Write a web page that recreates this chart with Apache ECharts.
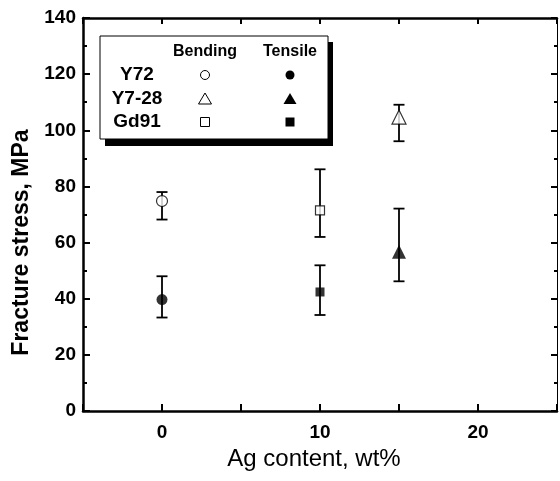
<!DOCTYPE html>
<html><head><meta charset="utf-8">
<script src="https://cdn.jsdelivr.net/npm/echarts@6/dist/echarts.min.js"></script>
<style>html,body{margin:0;padding:0;background:#fff}#c{width:560px;height:481px}</style>
</head><body><div id="c"></div>
<script>
// Sample order: Y72, Y7-28, Gd91
const samples = ['Y72', 'Y7-28', 'Gd91'];
const agContent = [0, 15, 10];
const bendMean = [74.8, 104.7, 71.5];
const bendLow = [68.2, 96.1, 62.0];
const bendHigh = [78.0, 109.1, 86.1];
const tensMean = [39.7, 56.7, 42.4];
const tensLow = [33.3, 46.2, 34.2];
const tensHigh = [48.0, 72.1, 51.9];
const xTicks = [0, 10, 20];
const yTicks = [0, 20, 40, 60, 80, 100, 120, 140];

const symbols = ['circle', 'triangle', 'rect'];
const symSizes = [11, 14, 9];
const FONT = "'Liberation Sans Narrow','Liberation Sans',Arial,sans-serif";

function errData(low, high) {
  return agContent.map((x, i) => [x, low[i], high[i]]);
}
function errSeries(low, high) {
  return {
    type: 'custom', z: 1,
    data: errData(low, high),
    renderItem: function (params, api) {
      const lo = api.coord([api.value(0), api.value(1)]);
      const hi = api.coord([api.value(0), api.value(2)]);
      const w = 5.5;
      const st = { stroke: '#000', lineWidth: 1.8 };
      return { type: 'group', children: [
        { type: 'line', shape: { x1: lo[0], y1: lo[1], x2: hi[0], y2: hi[1] }, style: st },
        { type: 'line', shape: { x1: lo[0] - w, y1: lo[1], x2: lo[0] + w, y2: lo[1] }, style: st },
        { type: 'line', shape: { x1: hi[0] - w, y1: hi[1], x2: hi[0] + w, y2: hi[1] }, style: st }
      ]};
    }
  };
}
function markerSeries(mean, open) {
  return agContent.map((x, i) => ({
    type: 'scatter', z: 3,
    symbol: symbols[i], symbolSize: symSizes[i],
    itemStyle: open ? { color: '#fff', borderColor: '#000', borderWidth: 1.2 } : { color: '#000' },
    data: [[x, mean[i]]]
  }));
}

const chart = echarts.init(document.getElementById('c'), null, { renderer: 'canvas' });

const tickFont = { fontFamily: FONT, fontWeight: 'bold', fontSize: 19, color: '#000' };

// legend graphic
const lgX = 100, lgY = 36, lgW = 228, lgH = 103;
const colB = 205, colT = 290;
const rowY = [75, 99, 122];
const legendEls = [
  { type: 'rect', shape: { x: lgX + 5, y: lgY + 6, width: lgW, height: lgH + 1 }, style: { fill: '#000' }, z: 10 },
  { type: 'rect', shape: { x: lgX, y: lgY, width: lgW, height: lgH }, style: { fill: '#fff', stroke: '#000', lineWidth: 1 }, z: 11 },
  { type: 'text', x: colB, y: 52, style: { text: 'Bending', font: "bold 16px " + FONT, fill: '#000', align: 'center', verticalAlign: 'middle' }, z: 12 },
  { type: 'text', x: colT, y: 52, style: { text: 'Tensile', font: "bold 16px " + FONT, fill: '#000', align: 'center', verticalAlign: 'middle' }, z: 12 }
];
samples.forEach((s, i) => {
  legendEls.push({ type: 'text', x: 137, y: rowY[i], style: { text: s, font: "bold 19px " + FONT, fill: '#000', align: 'center', verticalAlign: 'middle' }, z: 12 });
});
function legendSym(kind, cx, cy, open) {
  const style = open ? { fill: '#fff', stroke: '#000', lineWidth: 1 } : { fill: '#000' };
  if (kind === 'circle') return { type: 'circle', shape: { cx: cx, cy: cy, r: 4.5 }, style: style, z: 12 };
  if (kind === 'triangle') return { type: 'polygon', shape: { points: [[cx, cy - 6], [cx + 6.5, cy + 5], [cx - 6.5, cy + 5]] }, style: style, z: 12 };
  return { type: 'rect', shape: { x: cx - 4.5, y: cy - 4.5, width: 9, height: 9 }, style: style, z: 12 };
}
symbols.forEach((k, i) => {
  legendEls.push(legendSym(k, colB, rowY[i], true));
  legendEls.push(legendSym(k, colT, rowY[i], false));
});

chart.setOption({
  animation: false,
  backgroundColor: '#fff',
  grid: { left: 83, right: 3, top: 18, bottom: 70 },
  xAxis: [{
    type: 'value', min: -5, max: 25, interval: 5, position: 'bottom',
    name: 'Ag content, wt%', nameLocation: 'middle', nameGap: 31,
    nameTextStyle: { fontFamily: FONT, fontSize: 24, color: '#000', padding: [0, 12, 0, 0] },
    axisLine: { show: true, onZero: false, lineStyle: { color: '#000', width: 2.5 } },
    axisTick: { inside: true, length: 7, lineStyle: { color: '#000', width: 2 } },
    axisLabel: Object.assign({ margin: 12, formatter: v => xTicks.indexOf(v) >= 0 ? String(v) : '' }, tickFont),
    splitLine: { show: false }
  }, {
    type: 'value', min: -5, max: 25, interval: 5, position: 'top',
    axisLine: { show: true, onZero: false, lineStyle: { color: '#000', width: 2.5 } },
    axisTick: { inside: true, length: 6, lineStyle: { color: '#000', width: 2 } },
    axisLabel: { show: false }, splitLine: { show: false }
  }],
  yAxis: [{
    type: 'value', min: 0, max: 140, interval: 20, position: 'left',
    name: 'Fracture stress, MPa', nameLocation: 'middle', nameGap: 50,
    nameTextStyle: { fontFamily: FONT, fontWeight: 'bold', fontSize: 23, color: '#000', padding: [0, 56, 0, 0] },
    axisLine: { show: true, onZero: false, lineStyle: { color: '#000', width: 2.5 } },
    axisTick: { inside: true, length: 7, lineStyle: { color: '#000', width: 2 } },
    minorTick: { show: true, splitNumber: 2, length: 4, lineStyle: { color: '#000', width: 2 } },
    axisLabel: Object.assign({ margin: 7, formatter: v => yTicks.indexOf(v) >= 0 ? String(v) : '' }, tickFont),
    splitLine: { show: false }
  }, {
    type: 'value', min: 0, max: 140, interval: 20, position: 'right',
    axisLine: { show: true, onZero: false, lineStyle: { color: '#000', width: 1 } },
    axisTick: { inside: true, length: 6, lineStyle: { color: '#000', width: 2 } },
    minorTick: { show: true, splitNumber: 2, length: 3, lineStyle: { color: '#000', width: 2 } },
    axisLabel: { show: false }, splitLine: { show: false }
  }],
  graphic: legendEls,
  series: [
    errSeries(bendLow, bendHigh),
    errSeries(tensLow, tensHigh)
  ].concat(markerSeries(bendMean, true), markerSeries(tensMean, false))
});
</script></body></html>
